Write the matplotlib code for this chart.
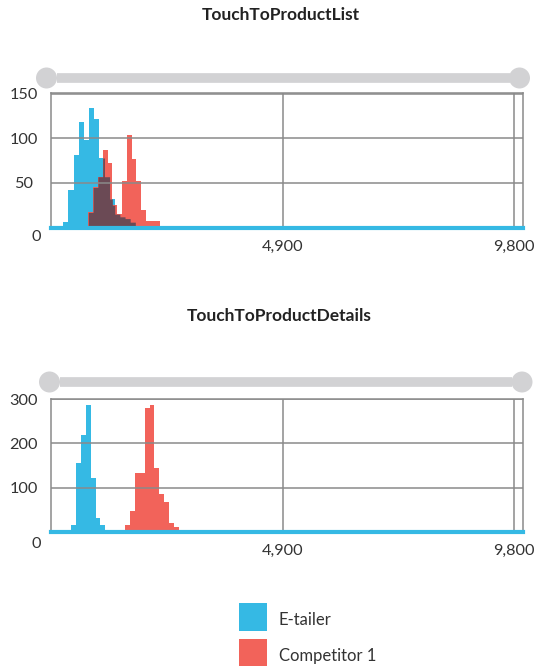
import numpy as np
import matplotlib
matplotlib.use('Agg')
import matplotlib.pyplot as plt
from matplotlib.patches import Circle, Rectangle
from matplotlib.lines import Line2D

plt.rcParams['font.family'] = ['Lato', 'DejaVu Sans']

# ---- data ----
series_names = ['E-tailer', 'Competitor 1']
titles = ['TouchToProductList', 'TouchToProductDetails']
x_ticks = [4900, 9800]
x_tick_labels = ['4,900', '9,800']

# TouchToProductList histograms (bin start, bin width, counts)
list_etailer_start, list_etailer_width = 252, 109
list_etailer_counts = [6, 42, 81, 118, 98, 134, 122, 78, 57, 32, 15, 12, 10, 6]
list_comp_start, list_comp_width = 781, 102
list_comp_counts = [17, 45, 57, 87, 72, 25, 15, 52, 104, 77, 52, 20, 7, 7, 7]
list_yticks = [0, 50, 100, 150]

# TouchToProductDetails histograms
det_etailer_start, det_etailer_width = 410, 105
det_etailer_counts = [15, 155, 218, 286, 122, 31, 14]
det_comp_start, det_comp_width = 1559, 104
det_comp_counts = [15, 46, 133, 133, 280, 287, 144, 86, 68, 19, 10]
det_yticks = [0, 100, 200, 300]

BLUE = '#35B9E4'
RED = '#F2635A'
DARK = '#6B4A55'
GRID = '#8A8A8A'
SLIDER = '#D2D2D4'
TEXT = '#333333'

W, H = 539, 666
fig = plt.figure(figsize=(W / 100, H / 100), dpi=100)


def fx(px):
    return px / W


def fy(py):
    return 1 - py / H


def step_values(xs, start, width, counts):
    idx = np.floor((xs - start) / width).astype(int)
    out = np.zeros_like(xs, dtype=float)
    ok = (idx >= 0) & (idx < len(counts))
    out[ok] = np.asarray(counts, dtype=float)[idx[ok]]
    return out


def draw_hist(rect, ymax, yticks, a, b, zero_dy):
    ax = fig.add_axes(rect)
    (sa, wa, ca), (sb, wb, cb) = a, b
    ea = sa + wa * np.arange(len(ca))
    eb = sb + wb * np.arange(len(cb))
    ax.bar(ea, ca, width=wa, align='edge', color=BLUE, linewidth=0, zorder=1)
    ax.bar(eb, cb, width=wb, align='edge', color=RED, linewidth=0, zorder=1.5)
    # overlapping part of the two histograms is shown darker
    xs = np.arange(0, 4000, 0.5)
    ov = np.minimum(step_values(xs, sa, wa, ca), step_values(xs, sb, wb, cb))
    ax.fill_between(xs, 0, ov, color=DARK, linewidth=0, zorder=2)

    ax.set_xlim(0, 9990)
    ax.set_ylim(0, ymax)
    for y in yticks[1:]:
        ax.axhline(y, color=GRID, lw=1.1, zorder=3)
    for x in x_ticks:
        ax.axvline(x, color=GRID, lw=1.1, zorder=3)
    ax.axhline(0, color=BLUE, lw=3, zorder=4, clip_on=False)

    for s in ['left', 'top', 'right']:
        ax.spines[s].set_color(GRID)
        ax.spines[s].set_linewidth(1.1)
    ax.spines['bottom'].set_visible(False)

    ax.set_xticks(x_ticks)
    ax.set_xticklabels(x_tick_labels)
    ax.set_yticks(yticks[1:])
    ax.set_yticklabels([str(v) for v in yticks[1:]])
    ax.tick_params(axis='both', length=0, labelsize=11.7, labelcolor=TEXT)
    ax.tick_params(axis='x', pad=9)
    ax.tick_params(axis='y', pad=20)
    for lab in ax.get_yticklabels():
        lab.set_horizontalalignment('center')
    ax.annotate('0', xy=(0, 0), xycoords=('axes fraction', 'data'),
                xytext=(-11, zero_dy), textcoords='offset points',
                ha='center', va='center', fontsize=11.7, color=TEXT)
    return ax


def draw_slider(y, x_left, x_right):
    fig.add_artist(Line2D([fx(x_left + 10), fx(x_right - 10)], [fy(y), fy(y)],
                          color=SLIDER, lw=7, solid_capstyle='butt'))
    for cx in (x_left, x_right):
        fig.add_artist(Circle((cx, H - y), 10.5, transform=None,
                              color=SLIDER, linewidth=0))


# top panel
fig.text(fx(281), fy(15), titles[0], ha='center', va='center',
         fontsize=12.5, fontweight='bold', color='#222222')
draw_slider(78, 46.5, 519.5)
draw_hist([fx(51.4), fy(227.5), fx(523 - 51.4), (227.5 - 93) / H], 151,
          list_yticks,
          (list_etailer_start, list_etailer_width, list_etailer_counts),
          (list_comp_start, list_comp_width, list_comp_counts), -7)

# bottom panel
fig.text(fx(279), fy(316), titles[1], ha='center', va='center',
         fontsize=12.5, fontweight='bold', color='#222222')
draw_slider(382, 49.5, 522)
draw_hist([fx(51.4), fy(531.6), fx(523 - 51.4), (531.6 - 399.3) / H], 299,
          det_yticks,
          (det_etailer_start, det_etailer_width, det_etailer_counts),
          (det_comp_start, det_comp_width, det_comp_counts), -9)

# legend
for i, (name, col) in enumerate(zip(series_names, [BLUE, RED])):
    top = 603 + i * 36
    fig.add_artist(Rectangle((fx(239.5), fy(top + 27.5)), fx(27.5), 27.5 / H,
                             color=col, linewidth=0))
    fig.text(fx(279), fy(top + 17), name, ha='left', va='center',
             fontsize=12, color=TEXT)

fig.savefig('out.png', dpi=100)
